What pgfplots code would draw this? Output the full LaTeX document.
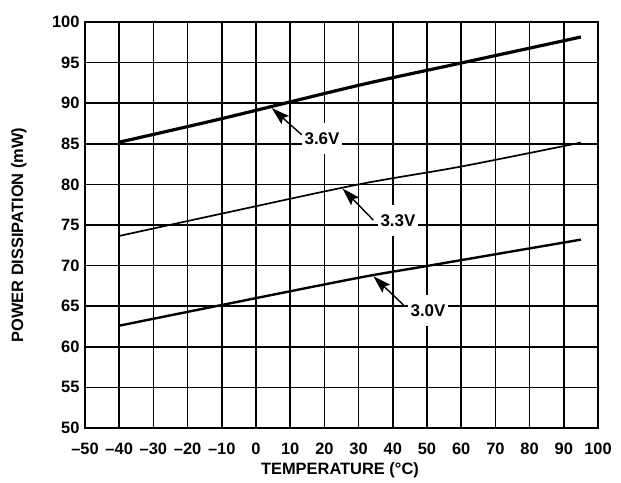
\documentclass[border=0pt]{standalone}
\usepackage{fontspec}
\setmainfont{Liberation Sans}
\usepackage{pgfplots}
\pgfplotsset{compat=1.18}
\usetikzlibrary{arrows.meta}
\begin{document}
\begin{tikzpicture}
\begin{axis}[
  scale only axis, width=513bp, height=406bp,
  xmin=-50, xmax=100, ymin=50, ymax=100,
  xtick={-50,-40,-30,-20,-10,0,10,20,30,40,50,60,70,80,90,100},
  xticklabels={--50,--40,--30,--20,--10,0,10,20,30,40,50,60,70,80,90,100},
  ytick={50,55,60,65,70,75,80,85,90,95,100},
  yticklabels={50,55,60,65,70,75,80,85,90,95,100},
  grid=major,
  major grid style={black, line width=1.6bp},
  axis line style={line width=2.5bp},
  major tick length=0pt,
  tick style={draw=none},
  ticklabel style={font=\fontsize{16.5}{19}\selectfont\bfseries},
  xticklabel style={yshift=-12bp},
  yticklabel style={xshift=-2bp},
  every axis x label/.style={at={(axis description cs:0.497,-0.103)}, anchor=center, font=\fontsize{16.5}{19}\selectfont\bfseries},
  every axis y label/.style={at={(axis description cs:-0.1287,0.475)}, anchor=center, rotate=90, font=\fontsize{16.5}{19}\selectfont\bfseries},
  xlabel={TEMPERATURE (°C)},
  ylabel={POWER DISSIPATION (mW)},
  clip=false,
]
\path (axis cs:-74.854,43.227) rectangle (axis cs:106.725,102.709);

\addplot[black, line width=3.2bp, mark=none, smooth, tension=0.5] coordinates {(-40,85.2) (-10,88.1) (30,92.2) (60,94.95) (95,98.15)};
\addplot[black, line width=1.7bp, mark=none, smooth, tension=0.5] coordinates {(-40,73.65) (-10,76.4) (30,80.0) (60,82.2) (95,85.15)};
\addplot[black, line width=2.4bp, mark=none, smooth, tension=0.5] coordinates {(-40,62.6) (-10,65.15) (30,68.5) (50,69.95) (95,73.2)};

\node[fill=white, inner xsep=3bp, minimum height=31bp, font=\fontsize{17}{19}\selectfont\bfseries] at (axis cs:19.3,85.6) {3.6V};
\node[fill=white, inner xsep=3bp, minimum height=31bp, font=\fontsize{17}{19}\selectfont\bfseries] at (axis cs:41.5,75.5) {3.3V};
\node[fill=white, inner xsep=3bp, minimum height=31bp, font=\fontsize{17}{19}\selectfont\bfseries] at (axis cs:50.3,64.5) {3.0V};

\draw[-{Stealth[length=18bp,width=11bp,inset=3bp]}, line width=1.4bp] (axis cs:13.4,86.1) -- (axis cs:4.6,89.4);
\draw[-{Stealth[length=18bp,width=11bp,inset=3bp]}, line width=1.4bp] (axis cs:34.3,75.6) -- (axis cs:25.3,79.5);
\draw[-{Stealth[length=18bp,width=11bp,inset=3bp]}, line width=1.4bp] (axis cs:43.1,65.15) -- (axis cs:34.3,68.7);
\end{axis}
\end{tikzpicture}
\end{document}
